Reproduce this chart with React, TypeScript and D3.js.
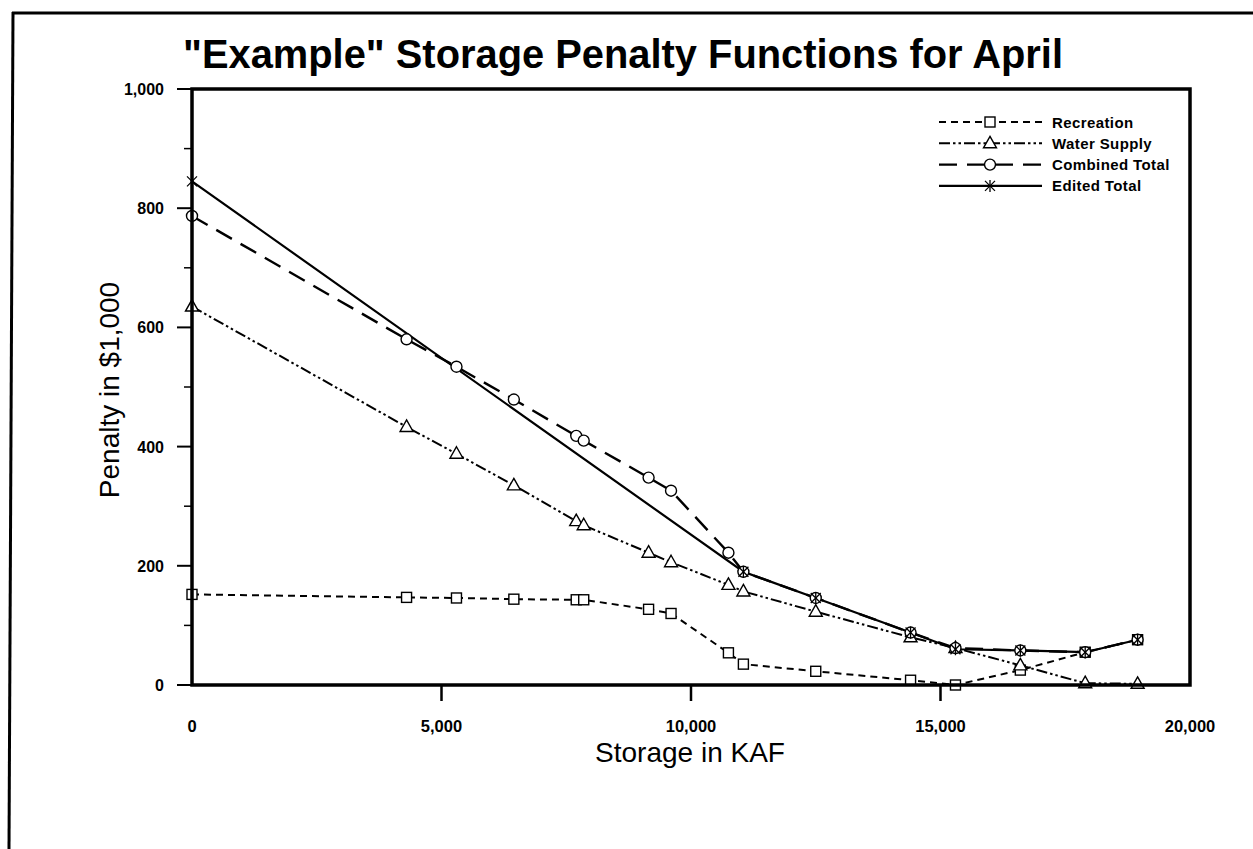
import React from "react";
import * as d3 from "d3";

const storage = [0, 4300, 5300, 6450, 7700, 7850, 9150, 9600, 10750, 11050, 12500, 14400, 15300, 16600, 17900, 18950];
const recreation = [152, 147, 146, 144, 143, 143, 127, 120, 54, 35, 23, 8, 0, 25, 55, 76];
const waterSupply = [635, 433, 388, 335, 275, 268, 222, 206, 168, 157, 123, 80, 62, 33, 3, 2];
const combinedTotal = [787, 580, 534, 479, 418, 410, 348, 326, 222, 190, 146, 88, 62, 58, 55, 76];
const editedStorage = [0, 11050, 12500, 14400, 15300, 16600, 17900, 18950];
const editedTotal = [845, 190, 146, 88, 60, 58, 55, 76];
const xTicks = [0, 5000, 10000, 15000, 20000];
const yTicks = [0, 200, 400, 600, 800, 1000];
const yMinor = [100, 300, 500, 700, 900];
const legendLabels = ["Recreation", "Water Supply", "Combined Total", "Edited Total"];

const FONT = "'Liberation Sans', Arial, Helvetica, sans-serif";

type Marker = "square" | "triangle" | "circle" | "star";

function MarkerShape({ kind, x, y }: { kind: Marker; x: number; y: number }) {
  const s = 1.4;
  if (kind === "square")
    return <rect x={x - 5} y={y - 5} width={10} height={10} fill="white" stroke="black" strokeWidth={s} />;
  if (kind === "triangle")
    return (
      <path
        d={`M${x},${y - 7} L${x + 6.5},${y + 4.5} L${x - 6.5},${y + 4.5} Z`}
        fill="white"
        stroke="black"
        strokeWidth={s}
      />
    );
  if (kind === "circle") return <circle cx={x} cy={y} r={5.5} fill="white" stroke="black" strokeWidth={s} />;
  return (
    <g stroke="black" strokeWidth={1.3}>
      <line x1={x - 5} y1={y - 5} x2={x + 5} y2={y + 5} />
      <line x1={x - 5} y1={y + 5} x2={x + 5} y2={y - 5} />
      <line x1={x} y1={y - 6} x2={x} y2={y + 6} />
    </g>
  );
}

export default function App() {
  const W = 1253;
  const H = 849;
  const left = 192;
  const right = 1190;
  const top = 89;
  const bottom = 685;
  const x = d3.scaleLinear().domain([0, 20000]).range([left, right]);
  const y = d3.scaleLinear().domain([0, 1000]).range([bottom, top]);
  const line = d3
    .line<[number, number]>()
    .x((d) => x(d[0]))
    .y((d) => y(d[1]));

  const series: { xs: number[]; ys: number[]; marker: Marker; dash: string; width: number }[] = [
    { xs: storage, ys: recreation, marker: "square", dash: "7,5", width: 2 },
    { xs: storage, ys: waterSupply, marker: "triangle", dash: "11,3,2.5,3,2.5,3", width: 2 },
    { xs: storage, ys: combinedTotal, marker: "circle", dash: "18,10", width: 2.4 },
    { xs: editedStorage, ys: editedTotal, marker: "star", dash: "none", width: 2.2 },
  ];

  const fmt = d3.format(",");

  return (
    <svg width={W} height={H} style={{ display: "block", position: "absolute", left: 0, top: 0, background: "white" }}>
      <rect x={0} y={0} width={W} height={H} fill="white" />
      {/* outer frame */}
      <line x1={12} y1={13} x2={W} y2={13} stroke="black" strokeWidth={3} />
      <line x1={13} y1={12} x2={9} y2={H} stroke="black" strokeWidth={3} />

      <text
        x={623}
        y={68}
        textAnchor="middle"
        fontFamily={FONT}
        fontWeight="bold"
        fontSize={40}
        textLength={880}
        lengthAdjust="spacingAndGlyphs"
      >
        "Example" Storage Penalty Functions for April
      </text>

      {/* y ticks */}
      {yTicks.map((t) => (
        <g key={"y" + t}>
          <line x1={left - 15} x2={left} y1={y(t)} y2={y(t)} stroke="black" strokeWidth={2} />
          <text
            x={left - 28}
            y={y(t) + 6}
            textAnchor="end"
            fontFamily={FONT}
            fontWeight="bold"
            fontSize={16}
          >
            {fmt(t)}
          </text>
        </g>
      ))}
      {yMinor.map((t) => (
        <line key={"ym" + t} x1={left - 8} x2={left} y1={y(t)} y2={y(t)} stroke="black" strokeWidth={1.5} />
      ))}
      {/* x ticks */}
      {xTicks.map((t) => (
        <g key={"x" + t}>
          {t > 0 && t < 20000 && (
            <line x1={x(t)} x2={x(t)} y1={bottom} y2={bottom + 16} stroke="black" strokeWidth={2.5} />
          )}
          <text x={x(t)} y={732} textAnchor="middle" fontFamily={FONT} fontWeight="bold" fontSize={16.5}>
            {fmt(t)}
          </text>
        </g>
      ))}

      {/* axis titles */}
      <text x={690} y={762} textAnchor="middle" fontFamily={FONT} fontSize={28}>
        Storage in KAF
      </text>
      <text
        transform={`translate(119,390) rotate(-90)`}
        textAnchor="middle"
        fontFamily={FONT}
        fontSize={28}
      >
        Penalty in $1,000
      </text>

      {/* series lines */}
      {series.map((s, i) => (
        <path
          key={"l" + i}
          d={line(s.xs.map((v, j) => [v, s.ys[j]] as [number, number])) || ""}
          fill="none"
          stroke="black"
          strokeWidth={s.width}
          strokeDasharray={s.dash}
        />
      ))}
      {/* markers */}
      {series.map((s, i) => (
        <g key={"m" + i}>
          {s.xs.map((v, j) => (
            <MarkerShape key={j} kind={s.marker} x={x(v)} y={y(s.ys[j])} />
          ))}
        </g>
      ))}

      {/* frame */}
      <rect x={left} y={top} width={right - left} height={bottom - top} fill="none" stroke="black" strokeWidth={3.5} />

      {/* legend */}
      {series.map((s, i) => {
        const ly = 122 + i * 21.3;
        return (
          <g key={"lg" + i}>
            <line x1={939} x2={1042} y1={ly} y2={ly} stroke="black" strokeWidth={s.width} strokeDasharray={s.dash} />
            <MarkerShape kind={s.marker} x={990} y={ly} />
            <text
              x={1052}
              y={ly + 5.5}
              fontFamily={FONT}
              fontWeight="bold"
              fontSize={15}
              letterSpacing={0.4}
            >
              {legendLabels[i]}
            </text>
          </g>
        );
      })}
    </svg>
  );
}
